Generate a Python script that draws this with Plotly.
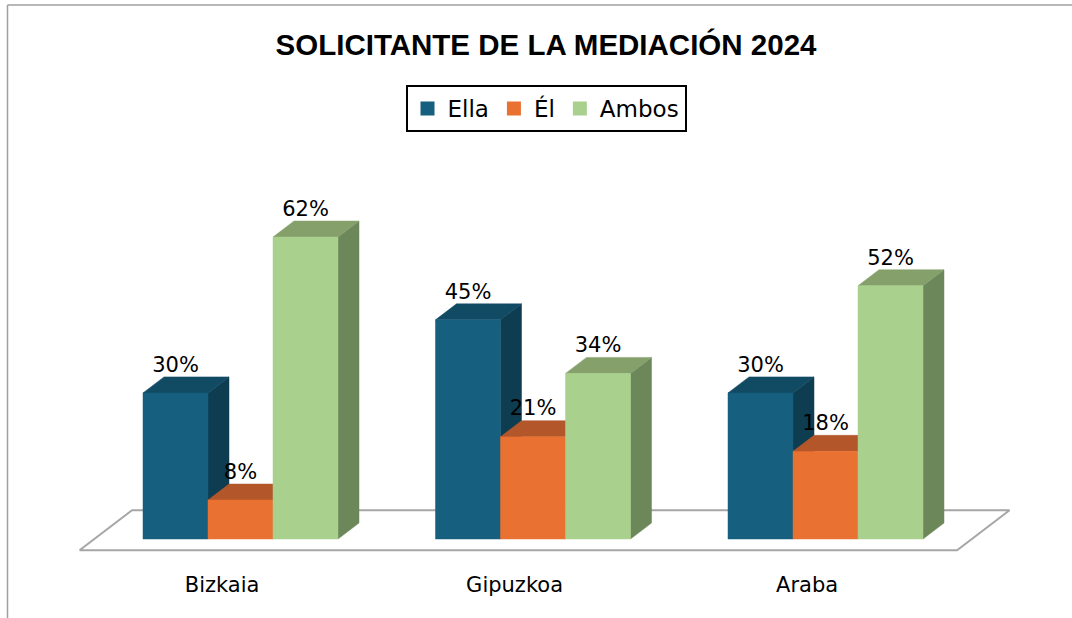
import plotly.graph_objects as go

# ---------------- data ----------------
categories = ["Bizkaia", "Gipuzkoa", "Araba"]
series_names = ["Ella", "Él", "Ambos"]
ella = [30, 45, 30]
el = [8, 21, 18]
ambos = [62, 34, 52]
values = [ella, el, ambos]
title_text = "SOLICITANTE DE LA MEDIACIÓN 2024"

# ---------------- style ----------------
front_colors = ["#165F7F", "#E97132", "#AAD08D"]
top_colors = ["#114A63", "#B3562A", "#85A06B"]
side_colors = ["#0E3C50", "#9A4722", "#6C8759"]
FONT = "DejaVu Sans"
TITLE_FONT = "Liberation Sans"

W = 1072
H = 618
M_B = 48
PLOT_H = H - M_B
PX_PER_CAT = 292.5
X0_PX = 240.5          # pixel of category 0
PX_PER_PCT = 4.87
BASE_PX = 539          # pixel of value 0

x_range = [-X0_PX / PX_PER_CAT, (W - X0_PX) / PX_PER_CAT]
y_range = [(BASE_PX - PLOT_H) / PX_PER_PCT, BASE_PX / PX_PER_PCT]

n_series = len(values)
group_w = 2 / 3
bar_w = group_w / n_series
DX = 21 / PX_PER_CAT
DY = 16 / PX_PER_PCT
FLOOR_FRONT = -0.7
FLOOR_BACK = 1.8
LABEL_SHIFT = -0.063

fig = go.Figure()

# legend entries
for j, name in enumerate(series_names):
    fig.add_trace(go.Scatter(x=[None], y=[None], mode="markers", name=name,
                             marker=dict(symbol="square", size=14, color=front_colors[j]),
                             showlegend=True, hoverinfo="skip"))

# floor
n_cat = len(categories)
fx0, fx1 = -0.5, n_cat - 0.5
floor_x = [fx0 + FLOOR_FRONT * DX, fx1 + FLOOR_FRONT * DX, fx1 + FLOOR_BACK * DX, fx0 + FLOOR_BACK * DX, fx0 + FLOOR_FRONT * DX]
floor_y = [FLOOR_FRONT * DY, FLOOR_FRONT * DY, FLOOR_BACK * DY, FLOOR_BACK * DY, FLOOR_FRONT * DY]
fig.add_trace(go.Scatter(x=floor_x, y=floor_y, mode="lines", fill="toself", fillcolor="white",
                         line=dict(color="#A6A6A6", width=2), showlegend=False, hoverinfo="skip"))

# bars (side, top, front per series)
for j in range(n_series):
    sx, sy, tx, ty, fxs, fys = [], [], [], [], [], []
    for i, v in enumerate(values[j]):
        L = i - group_w / 2 + j * bar_w
        R = L + bar_w
        sx += [R, R + DX, R + DX, R, R, None]
        sy += [0, DY, v + DY, v, 0, None]
        tx += [L, R, R + DX, L + DX, L, None]
        ty += [v, v, v + DY, v + DY, v, None]
        fxs += [L, R, R, L, L, None]
        fys += [0, 0, v, v, 0, None]
    for xs, ys, col in [(sx, sy, side_colors[j]), (tx, ty, top_colors[j]), (fxs, fys, front_colors[j])]:
        fig.add_trace(go.Scatter(x=xs, y=ys, mode="lines", fill="toself", fillcolor=col,
                                 line=dict(color=col, width=0.5), showlegend=False,
                                 hoverinfo="skip"))

# data labels
for j in range(n_series):
    lx, ly, lt = [], [], []
    for i, v in enumerate(values[j]):
        L = i - group_w / 2 + j * bar_w
        lx.append(L + bar_w / 2)
        ly.append(v + DY)
        lt.append(f"{v}%")
    fig.add_trace(go.Scatter(x=lx, y=ly, mode="text", text=lt, textposition="top center",
                             textfont=dict(family=FONT, size=21, color="black"),
                             showlegend=False, hoverinfo="skip"))

# chart border (left and top)
fig.add_shape(type="line", xref="paper", yref="paper", x0=7.5 / W, x1=7.5 / W,
              y0=1 - 5 / PLOT_H, y1=1 - H / PLOT_H, line=dict(color="#A0A0A0", width=1.5))
fig.add_shape(type="line", xref="paper", yref="paper", x0=7.5 / W, x1=1.0,
              y0=1 - 5 / PLOT_H, y1=1 - 5 / PLOT_H, line=dict(color="#A0A0A0", width=1.5))

fig.update_layout(
    width=W, height=H,
    margin=dict(l=0, r=0, t=0, b=M_B),
    paper_bgcolor="white", plot_bgcolor="white",
    title=dict(text=title_text, x=546 / W, xanchor="center", y=1 - 45 / H, yanchor="middle",
               font=dict(family=TITLE_FONT, size=29.5, color="black", weight="bold")),
    legend=dict(orientation="h", x=546 / W, xanchor="center", y=1 - 85 / PLOT_H, yanchor="top",
                bordercolor="black", borderwidth=2, bgcolor="white",
                font=dict(family=FONT, size=23, color="black")),
    xaxis=dict(range=x_range, showgrid=False, zeroline=False, showline=False, ticks="",
               tickvals=[i + LABEL_SHIFT for i in range(n_cat)], ticktext=categories,
               tickfont=dict(family=FONT, size=21, color="black"), fixedrange=True),
    yaxis=dict(range=y_range, visible=False, fixedrange=True),
    showlegend=True,
)

fig.write_html("out.html", config={"displayModeBar": False},
               post_script="document.body.style.margin='0';")
